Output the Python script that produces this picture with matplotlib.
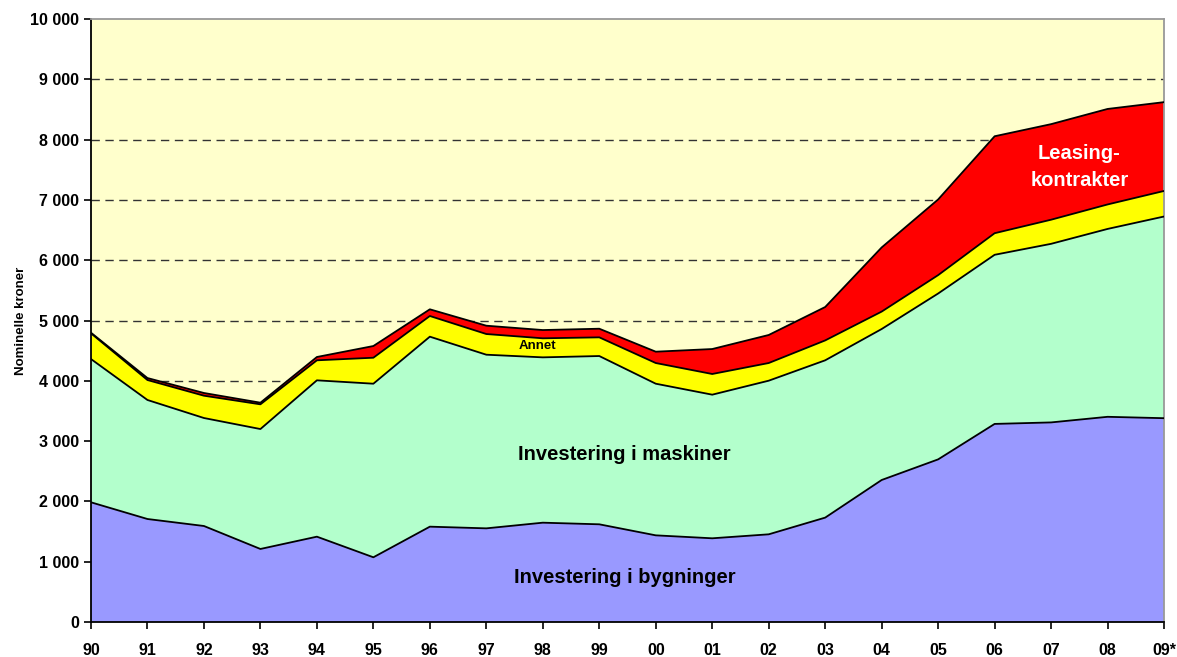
import numpy as np
import matplotlib.pyplot as plt

plt.rcParams['font.family'] = ['Liberation Sans', 'DejaVu Sans']

# Data (nominal kroner)
years = ['90', '91', '92', '93', '94', '95', '96', '97', '98', '99',
         '00', '01', '02', '03', '04', '05', '06', '07', '08', '09*']
bygninger = [1985, 1708, 1592, 1211, 1415, 1073, 1581, 1553, 1647, 1620,
             1437, 1388, 1454, 1731, 2355, 2697, 3285, 3310, 3403, 3380]
maskiner = [2376, 1974, 1791, 1989, 2593, 2879, 3151, 2880, 2742, 2791,
            2515, 2382, 2548, 2609, 2504, 2751, 2805, 2962, 3116, 3345]
annet = [427, 331, 370, 410, 332, 431, 343, 343, 316, 310,
         343, 343, 293, 330, 289, 305, 358, 400, 406, 424]
leasing = [10, 33, 45, 27, 55, 194, 111, 138, 137, 143,
           188, 414, 465, 554, 1064, 1255, 1608, 1585, 1584, 1473]

colors = ['#9999FF', '#B3FFCC', '#FFFF00', '#FF0000']

fig = plt.figure(figsize=(11.77, 6.57), dpi=100)
ax = fig.add_axes([0.0773, 0.0533, 0.9117, 0.9177])
ax.set_facecolor('#FFFFCC')

x = np.arange(len(years))
series = [bygninger, maskiner, annet, leasing]
base = np.zeros(len(years))
for s, c in zip(series, colors):
    top = base + np.array(s)
    ax.fill_between(x, base, top, facecolor=c, edgecolor='none', zorder=2)
    ax.plot(x, top, color='black', linewidth=1.3, zorder=3)
    base = top

# Gridlines
for v in range(1000, 10000, 1000):
    ax.axhline(v, color='#333333', linestyle=(0, (6, 4)), linewidth=1.0, zorder=1)

ax.set_xlim(0, len(years) - 1)
ax.set_ylim(0, 10000)
ax.set_xticks(x)
ax.set_xticklabels(years, fontsize=11.5, fontweight='bold')
yt = np.arange(0, 10001, 1000)
ax.set_yticks(yt)
ax.set_yticklabels([f'{v:,}'.replace(',', ' ') for v in yt], fontsize=11.5, fontweight='bold')
ax.tick_params(axis='both', direction='out', length=5, width=1.2, color='black')
ax.tick_params(axis='x', pad=10)

for side in ['left', 'bottom']:
    ax.spines[side].set_color('black')
    ax.spines[side].set_linewidth(1.3)
for side in ['top', 'right']:
    ax.spines[side].set_color('#999999')
    ax.spines[side].set_linewidth(1.3)

ax.set_ylabel('Nominelle kroner', fontsize=9.5, fontweight='bold')
ax.yaxis.set_label_coords(-0.06, 0.5)

# Area labels
ax.text(9.45, 730, 'Investering i bygninger', fontsize=14.5, fontweight='bold',
        ha='center', va='center', zorder=4)
ax.text(9.45, 2770, 'Investering i maskiner', fontsize=14.5, fontweight='bold',
        ha='center', va='center', zorder=4)
ax.text(7.9, 4580, 'Annet', fontsize=9.5, fontweight='bold',
        ha='center', va='center', zorder=4)
ax.text(17.5, 7540, 'Leasing-\nkontrakter', fontsize=14.5, fontweight='bold',
        color='white', ha='center', va='center', linespacing=1.55, zorder=4)

fig.savefig('out.png', dpi=100)
